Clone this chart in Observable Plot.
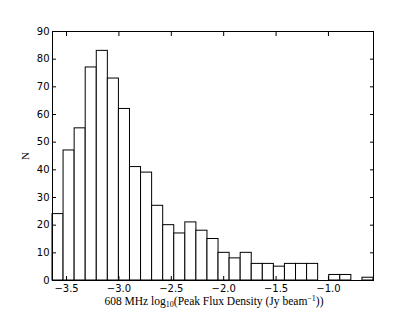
<!DOCTYPE html>
<html>
<head>
<meta charset="utf-8">
<script src="https://cdn.jsdelivr.net/npm/d3@7"></script>
<script src="https://cdn.jsdelivr.net/npm/@observablehq/plot@0.6"></script>
<style>
html,body{margin:0;padding:0;background:#fff;}
</style>
</head>
<body>
<div id="chart"></div>
<script>
// Histogram data
const binMin = -3.634;
const binMax = -0.57;
const counts = [24,47,55,77,83,73,62,41,39,27,20,17,21,18,15,10,8,10,6,6,5,6,6,6,0,2,2,0,1];
const xTicks = [-3.5,-3.0,-2.5,-2.0,-1.5,-1.0];
const yTicks = [0,10,20,30,40,50,60,70,80,90];

const w = (binMax - binMin) / counts.length;
const bins = counts.map((c, i) => ({x1: binMin + i*w, x2: binMin + (i+1)*w, y: c}));

const fmtX = d3.format(".1f");
const plot = Plot.plot({
  width: 415,
  height: 312,
  marginLeft: 52,
  marginRight: 42,
  marginTop: 31,
  marginBottom: 32,
  style: {fontFamily: "DejaVu Sans", fontSize: "10px", background: "white", color: "black"},
  x: {domain: [binMin, binMax], label: null},
  y: {domain: [0, 90], label: null},
  marks: [
    Plot.rectY(bins.filter(d => d.y > 0), {x1: "x1", x2: "x2", y: "y", fill: "white", stroke: "black", strokeWidth: 1}),
    Plot.axisX(xTicks, {anchor: "bottom", tickSize: -4, tickPadding: 8, tickFormat: fmtX, fontSize: 10, label: null}),
    Plot.axisX(xTicks, {anchor: "top", tickSize: -4, tickFormat: () => "", label: null}),
    Plot.axisY(yTicks, {anchor: "left", tickSize: -4, tickPadding: 7, fontSize: 10, label: null}),
    Plot.axisY(yTicks, {anchor: "right", tickSize: -4, tickFormat: () => "", label: null}),
    Plot.frame({stroke: "black", strokeWidth: 1})
  ]
});
document.getElementById("chart").appendChild(plot);

// axis labels (serif, as in the reference)
const svg = d3.select(plot);
svg.append("text")
  .attr("x", 214).attr("y", 305)
  .attr("text-anchor", "middle")
  .attr("font-family", "Liberation Serif")
  .attr("font-size", 11.5)
  .call(t => {
    t.append("tspan").text("608 MHz log");
    t.append("tspan").attr("font-size", 8).attr("dy", 2).text("10");
    t.append("tspan").attr("dy", -2).text("(Peak Flux Density (Jy beam");
    t.append("tspan").attr("font-size", 8).attr("dy", -4).text("−1");
    t.append("tspan").attr("dy", 4).text("))");
  });
svg.append("text")
  .attr("transform", "translate(29,156) rotate(-90)")
  .attr("text-anchor", "middle")
  .attr("font-family", "Liberation Serif")
  .attr("font-size", 11)
  .text("N");
</script>
</body>
</html>
